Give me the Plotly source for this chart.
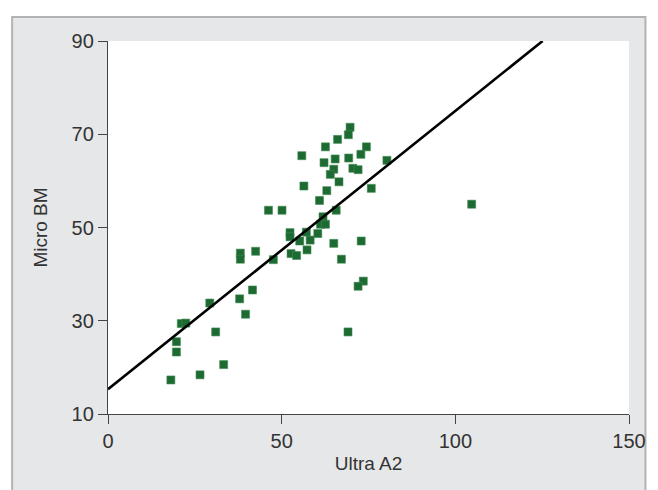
import plotly.graph_objects as go

# Scatter data
ultra_a2 = [69.7, 69.2, 66.1, 62.6, 74.4, 55.8, 72.8, 65.4, 69.3, 62.2,
            80.3, 65.0, 70.5, 72.0, 64.0, 66.5, 56.4, 75.8, 63.0, 60.9,
            46.2, 50.1, 65.7, 61.9, 61.2, 62.6, 52.4, 52.4, 57.1, 60.4,
            55.2, 58.2, 65.0, 72.9, 57.3, 52.7, 54.3, 67.2, 47.6, 73.5,
            72.0, 69.1, 104.7, 42.5, 38.1, 38.1, 41.6, 37.9, 29.3, 39.6,
            21.1, 22.4, 31.0, 19.7, 19.7, 33.3, 26.5, 18.1]
micro_bm = [71.5, 69.9, 68.9, 67.3, 67.3, 65.4, 65.7, 64.7, 64.9, 63.9,
            64.4, 62.5, 62.7, 62.4, 61.4, 59.8, 58.9, 58.4, 57.9, 55.8,
            53.7, 53.7, 53.7, 52.3, 50.7, 50.7, 48.9, 48.0, 49.0, 48.7,
            47.1, 47.3, 46.6, 47.1, 45.2, 44.4, 44.0, 43.2, 43.1, 38.5,
            37.4, 27.6, 55.0, 44.9, 44.5, 43.2, 36.6, 34.7, 33.8, 31.4,
            29.4, 29.5, 27.6, 25.5, 23.3, 20.6, 18.4, 17.3]

# Regression line parameters
fit_intercept = 15.3
fit_slope = 0.597
fit_x = [0, (90 - fit_intercept) / fit_slope]
fit_y = [fit_intercept + fit_slope * v for v in fit_x]

x_ticks = [0, 50, 100, 150]
y_ticks = [10, 30, 50, 70, 90]

# the page adds an 8px body margin on the left/top
W, H = 650, 482
L, R, T, B = 100, 12, 33, 76
pw, ph = W - L - R, H - T - B

def px2x(px):
    return (px - L) / pw

def py2y(py):
    return (H - B - py) / ph

fig = go.Figure()
fig.add_trace(go.Scatter(
    x=ultra_a2, y=micro_bm, mode="markers",
    marker=dict(symbol="square", size=8, color="#1d6b33",
                line=dict(width=0.6, color="#3f8a52")),
    showlegend=False, hoverinfo="skip"))
fig.add_trace(go.Scatter(
    x=fit_x, y=fit_y, mode="lines",
    line=dict(color="black", width=2.6),
    showlegend=False, hoverinfo="skip"))

shapes = [
    # grey frame background with border on top/left
    dict(type="rect", xref="paper", yref="paper",
         x0=px2x(1), x1=px2x(W + 5), y0=py2y(H + 5), y1=py2y(9),
         fillcolor="#e6e7e8", line=dict(color="#b3b3b3", width=2),
         layer="below"),
    # white plot area
    dict(type="rect", xref="paper", yref="paper",
         x0=0, x1=1, y0=0, y1=1,
         fillcolor="white", line=dict(width=0), layer="below"),
]

axis_font = dict(family="Liberation Sans, Arial, sans-serif", size=20, color="#333333")
fig.update_layout(
    width=W, height=H,
    margin=dict(l=L, r=R, t=T, b=B),
    paper_bgcolor="white",
    plot_bgcolor="white",
    shapes=shapes,
    font=axis_font,
    xaxis=dict(range=[0, 150], tickvals=x_ticks, ticks="outside",
               ticklen=9, tickwidth=1.3, tickcolor="#444444",
               showline=True, linecolor="#444444", linewidth=1.3,
               showgrid=False, zeroline=False, ticklabeloverflow="allow",
               title=dict(text="Ultra A2", standoff=5,
                          font=dict(size=19, color="#333333"))),
    yaxis=dict(range=[10, 90], tickvals=y_ticks, ticks="outside",
               ticklen=9, tickwidth=1.3, tickcolor="#444444",
               showline=True, linecolor="#444444", linewidth=1.3,
               showgrid=False, zeroline=False, ticklabeloverflow="allow",
               title=dict(text="Micro BM", standoff=18,
                          font=dict(size=19, color="#333333"))),
)

fig.write_html("out.html")
